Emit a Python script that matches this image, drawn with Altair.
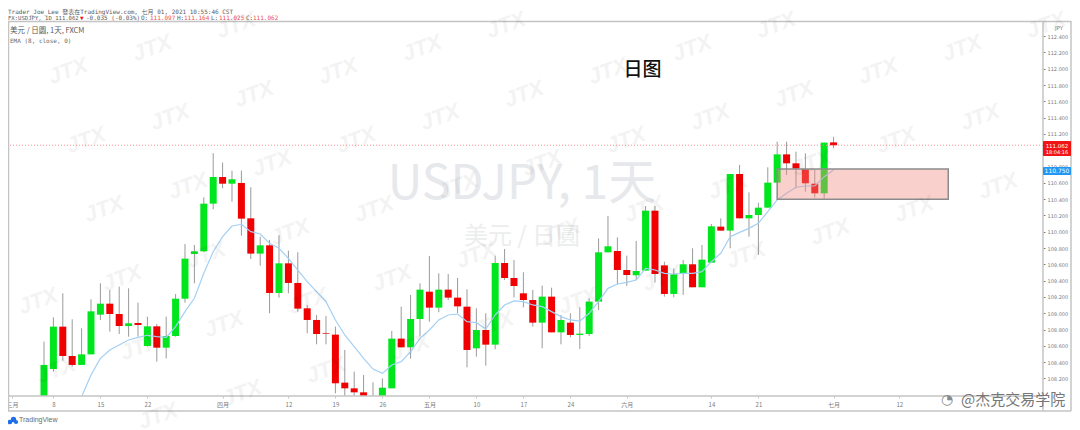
import json

import altair as alt
import pandas as pd

# candles (USDJPY daily)
opens = [107.57, 108.316, 108.836, 108.476, 108.366, 108.496, 108.983, 109.118, 108.991, 108.844,
         108.881, 108.599, 108.84, 108.578, 108.721, 109.179, 109.728, 109.76, 110.345, 110.672,
         110.59, 110.599, 110.165, 109.732, 109.834, 109.249, 109.613, 109.372, 109.061, 108.918,
         108.754, 108.738, 108.149, 108.079, 108.03, 107.916, 107.9, 108.079, 108.689, 108.582,
         108.93, 109.265, 109.069, 109.29, 109.192, 109.081, 108.57, 108.795, 108.615, 109.617,
         109.433, 109.245, 109.163, 108.885, 109.204, 108.766, 108.885, 108.734, 108.746, 109.143,
         109.748, 109.764, 109.531, 109.466, 109.523, 110.259, 109.588, 109.237, 109.482, 109.601,
         109.319, 109.621, 110.063, 110.014, 110.709, 110.165, 110.206, 110.296, 110.603, 110.95,
         110.84, 110.766, 110.59, 110.472, 111.097]
highs = [108.652, 108.95, 109.245, 108.926, 108.816, 109.171, 109.368, 109.286, 109.327, 109.306,
         109.13, 108.959, 108.869, 108.959, 109.237, 109.85, 109.838, 110.423, 110.963, 110.848,
         110.75, 110.75, 110.546, 109.94, 109.899, 109.957, 109.768, 109.748, 109.102, 108.979,
         108.967, 108.836, 108.55, 108.284, 108.243, 108.153, 108.2, 108.783, 109.081, 109.225,
         109.368, 109.703, 109.49, 109.482, 109.433, 109.294, 109.061, 109.0, 109.707, 109.789,
         109.654, 109.503, 109.286, 109.339, 109.314, 108.979, 109.0, 109.073, 109.184, 109.92,
         110.194, 109.932, 109.707, 109.887, 110.316, 110.316, 109.633, 109.552, 109.654, 109.797,
         109.838, 110.096, 110.165, 110.709, 110.82, 110.484, 110.357, 110.791, 111.106, 111.106,
         110.983, 110.963, 110.766, 111.094, 111.164]
lows = [107.5, 108.284, 108.419, 108.345, 108.366, 108.496, 108.918, 108.775, 108.746, 108.713,
        108.713, 108.59, 108.406, 108.447, 108.713, 109.13, 109.368, 109.756, 110.276, 110.533,
        110.37, 109.952, 109.666, 109.584, 109.0, 109.192, 109.245, 109.02, 108.754, 108.619,
        108.619, 108.018, 107.957, 107.936, 107.88, 107.78, 107.85, 108.079, 108.582, 108.443,
        108.713, 108.897, 109.012, 109.163, 109.0, 108.337, 108.468, 108.357, 108.558, 109.408,
        109.192, 109.073, 108.836, 108.57, 108.766, 108.619, 108.705, 108.562, 108.721, 109.04,
        109.748, 109.355, 109.335, 109.408, 109.523, 109.376, 109.204, 109.196, 109.225, 109.319,
        109.319, 109.621, 110.014, 109.797, 110.165, 109.94, 109.715, 110.296, 110.603, 110.697,
        110.533, 110.492, 110.419, 110.41, 111.025]
closes = [108.366, 108.836, 108.476, 108.366, 108.496, 109.024, 109.118, 108.991, 108.844, 108.877,
          108.856, 108.84, 108.578, 108.721, 109.179, 109.67, 109.76, 110.345, 110.672, 110.59,
          110.644, 110.161, 109.732, 109.834, 109.249, 109.613, 109.372, 109.057, 108.918, 108.746,
          108.746, 108.141, 108.079, 108.03, 107.916, 107.813, 108.087, 108.689, 108.582, 108.93,
          109.29, 109.069, 109.29, 109.192, 109.085, 108.55, 108.795, 108.615, 109.617, 109.433,
          109.335, 109.163, 108.885, 109.204, 108.766, 108.918, 108.734, 108.75, 109.143, 109.748,
          109.822, 109.531, 109.47, 109.519, 110.259, 109.482, 109.237, 109.478, 109.601, 109.319,
          109.658, 110.067, 110.014, 110.709, 110.165, 110.206, 110.296, 110.603, 110.95, 110.84,
          110.775, 110.595, 110.472, 111.094, 111.062]

# EMA starts at candle 3, before that it is below the chart
ema = [107.793, 107.977, 108.243, 108.447, 108.55, 108.611, 108.672, 108.705, 108.73, 108.713,
       108.705, 108.836, 109.02, 109.184, 109.49, 109.756, 109.94, 110.071, 110.092, 110.002,
       109.973, 109.858, 109.797, 109.674, 109.531, 109.388, 109.265, 109.143, 108.918, 108.734,
       108.59, 108.447, 108.316, 108.263, 108.366, 108.406, 108.529, 108.693, 108.795, 108.918,
       108.979, 108.991, 108.897, 108.885, 108.807, 108.979, 109.102, 109.151, 109.143, 109.102,
       109.081, 109.02, 108.959, 108.918, 108.905, 109.0, 109.143, 109.306, 109.359, 109.38,
       109.408, 109.552, 109.531, 109.49, 109.482, 109.49, 109.49, 109.511, 109.633, 109.736,
       109.94, 109.993, 110.042, 110.104, 110.247, 110.39, 110.472, 110.546, 110.562, 110.562,
       110.676, 110.758]

x_ticks = [-3.4, 1, 6, 11, 19, 26, 31, 36, 41, 46, 51, 56, 62, 71, 76, 84, 91]
x_labels = ["三月", "8", "15", "22", "四月", "12", "19", "26", "五月", "10", "17", "24", "六月",
            "14", "21", "七月", "12"]
y_ticks = [108.2, 108.4, 108.6, 108.8, 109.0, 109.2, 109.4, 109.6, 109.8, 110.0, 110.2,
           110.4, 110.6, 110.8, 111.0, 111.2, 111.4, 111.6, 111.8, 112.0, 112.2, 112.4]

last_price = 111.062
zone = {"x": 78, "x2": 96.2, "y": 110.77, "y2": 110.40}

X_DOMAIN = [-3.83, 106.28]
Y_DOMAIN = [107.985, 112.574]
FRAME = "#c4c4c4"
GREY = "#7c7c7c"
MONO = "DejaVu Sans Mono, Noto Sans CJK SC"
CJK = "Noto Sans CJK SC"

df = pd.DataFrame({"i": range(len(opens)), "open": opens, "high": highs, "low": lows, "close": closes})
df["dir"] = ["up" if c >= o else "down" for o, c in zip(opens, closes)]
ema_df = pd.DataFrame({"i": range(3, 3 + len(ema)), "ema": ema})

# padding=0 or the bars push the x scale inwards
x_scale = alt.Scale(domain=X_DOMAIN, nice=False, zero=False, padding=0)
y_scale = alt.Scale(domain=Y_DOMAIN, nice=False, zero=False, padding=0)
# same axis objects on every layer so they merge into one
x_axis = alt.Axis(values=x_ticks, labelExpr=f"{json.dumps(x_labels, ensure_ascii=False)}[indexof({json.dumps(x_ticks)}, datum.value)]",
                  title=None, grid=False, domain=False, tickColor=FRAME, tickSize=2, labelColor=GREY,
                  labelFontSize=6, labelFont=CJK, labelPadding=3, labelFlush=False, labelOverlap=False)
y_axis = alt.Axis(values=y_ticks, format=".3f", orient="right", title=None, grid=False, domain=False,
                  tickColor=GREY, tickSize=2, labelColor=GREY, labelFontSize=5, labelFont="DejaVu Sans",
                  labelPadding=2, labelOverlap=False, labelFlush=False)


def txt(text, px, py, size, color=GREY, font=CJK, align="left", **kw):
    # fixed text, px and py are page pixels of the picture
    return alt.Chart(df.head(1)).mark_text(text=text, fontSize=size, color=color, font=font, align=align,
                                           baseline="middle", **kw).encode(x=alt.value(px - 8), y=alt.value(py - 22))


def hline(py, px1, px2):
    return alt.Chart(df.head(1)).mark_rule(color=FRAME, strokeWidth=1.5).encode(
        x=alt.value(px1 - 8), x2=alt.value(px2 - 8), y=alt.value(py - 22))


def vline(px, py1, py2):
    return alt.Chart(df.head(1)).mark_rule(color=FRAME, strokeWidth=1.5).encode(
        x=alt.value(px - 8), y=alt.value(py1 - 22), y2=alt.value(py2 - 22))


def box(px1, px2, py1, py2, color):
    return alt.Chart(df.head(1)).mark_rect(color=color, cornerRadius=1).encode(
        x=alt.value(px1 - 8), x2=alt.value(px2 - 8), y=alt.value(py1 - 22), y2=alt.value(py2 - 22))


def dot(px, py, size, color):
    return alt.Chart(df.head(1)).mark_circle(color=color, size=size, opacity=1).encode(
        x=alt.value(px - 8), y=alt.value(py - 22))


# big symbol text behind the candles
back = [
    txt("USDJPY, 1天", 522, 185, 48, "#e6e8ec", "Noto Sans CJK SC", "center"),
    txt("美元 / 日圓", 522, 237, 24, "#eceded", "Noto Sans CJK SC", "center"),
]

base = alt.Chart(df)
wicks = base.mark_rule(color="#9a9a9a", strokeWidth=1, clip=True).encode(
    x=alt.X("i:Q", scale=x_scale, axis=x_axis),
    y=alt.Y("low:Q", scale=y_scale, axis=y_axis),
    y2="high:Q",
)
bodies = base.mark_bar(size=7, clip=True).encode(
    x=alt.X("i:Q", scale=x_scale, axis=x_axis),
    y=alt.Y("open:Q", scale=y_scale, axis=y_axis),
    y2="close:Q",
    color=alt.Color("dir:N", scale=alt.Scale(domain=["up", "down"], range=["#00e61e", "#f00000"]), legend=None),
)
ema_line = alt.Chart(ema_df).mark_line(color="#a3d0f5", strokeWidth=1.2, clip=True).encode(
    x=alt.X("i:Q", scale=x_scale, axis=x_axis),
    y=alt.Y("ema:Q", scale=y_scale, axis=y_axis),
)
price_line = alt.Chart(df.head(1)).mark_rule(color="#ff8f8f", strokeWidth=1, strokeDash=[1, 2]).encode(
    y=alt.Y(datum=last_price, scale=y_scale, axis=y_axis),
)
zone_rect = alt.Chart(pd.DataFrame([zone])).mark_rect(
    fill="#f08a80", fillOpacity=0.4, stroke="#8c8c8c", strokeWidth=1.5
).encode(
    x=alt.X("x:Q", scale=x_scale, axis=x_axis),
    x2="x2:Q",
    y=alt.Y("y:Q", scale=y_scale, axis=y_axis),
    y2="y2:Q",
)

# JTX watermark grid, converted from page pixels to the chart's own units
marks = []
for m in range(-2, 14):
    for n in range(-3, 4):
        px = 20 + 84 * m + 18 * n
        py = 232 - 23 * m + 69 * n
        if 24 <= px <= 1056 and 16 <= py <= 420:
            marks.append({"i": (px - 44) / 9.4, "p": 111.2 - (py - 134) / 81.5})
water = alt.Chart(pd.DataFrame(marks)).mark_text(
    text="JTX", font="Liberation Sans Narrow, Liberation Sans", fontSize=22, fontWeight="bold", fontStyle="italic",
    color="#000000", opacity=0.045, angle=340,
).encode(
    x=alt.X("i:Q", scale=x_scale, axis=x_axis),
    y=alt.Y("p:Q", scale=y_scale, axis=y_axis),
)

frame = [
    hline(21.5, 8, 1071), hline(396, 8, 1043), hline(411, 8, 1071),
    vline(8.5, 21, 411), vline(1043, 21, 411), vline(1071, 21, 411),
]

labels = [
    box(1043, 1071, 141, 156, "#f01414"),
    txt("111.062", 1057, 145.5, 5.5, "#ffffff", "DejaVu Sans", "center"),
    txt("18:04:16", 1057, 151.5, 5, "#ffffff", "DejaVu Sans", "center"),
    box(1043, 1071, 167, 175, "#2196f3"),
    txt("110.750", 1057, 171, 6, "#ffffff", "DejaVu Sans", "center"),
    txt("JPY", 1059, 28, 5.5, GREY, "DejaVu Sans", "center"),
]

header = [
    txt("Trader_Joe_Lee 發表在TradingView.com, 七月 01, 2021 10:55:46 CST", 8, 11.5, 6, "#5a5a5a", MONO),
    txt("FX:USDJPY, 1D 111.062", 8, 17.5, 5.6, "#5a5a5a", MONO),
    txt("▼", 80, 17.5, 6, "#f01414", MONO),
    txt("-0.035 (-0.03%)", 86, 17.5, 6, "#5a5a5a", MONO),
    txt("O:", 141, 17.5, 6, "#5a5a5a", MONO), txt("111.097", 150, 17.5, 6, "#f05050", MONO),
    txt("H:", 177, 17.5, 6, "#5a5a5a", MONO), txt("111.164", 184, 17.5, 6, "#f05050", MONO),
    txt("L:", 211, 17.5, 6, "#5a5a5a", MONO), txt("111.025", 219, 17.5, 6, "#f05050", MONO),
    txt("C:", 246, 17.5, 6, "#5a5a5a", MONO), txt("111.062", 253, 17.5, 6, "#f05050", MONO),
    txt("美元 / 日圆, 1天, FXCM", 10, 31, 7.5, "#5a5a5a"),
    txt("EMA (8, close, 0)", 10, 41, 6, "#6a6a6a", MONO),
    txt("日图", 642.5, 70, 19, "#111111", CJK, "center", fontWeight=500),
    dot(10, 422, 22, "#1e6fe8"), dot(13.5, 419.5, 28, "#1e6fe8"), dot(16, 422, 18, "#1e6fe8"),
    txt("TradingView", 19, 420, 7, "#6a6a6a", "Liberation Sans"),
    txt("◔", 947, 400, 14, "#8a8a8a", "DejaVu Sans", "center"),
    txt("@杰克交易学院", 961, 400, 15, "#777777", CJK),
]

chart = alt.layer(
    *back, wicks, bodies, ema_line, price_line, zone_rect, *frame, *labels, *header, water
).properties(
    width=1035,
    height=374,
    padding={"left": 0, "top": 14, "right": 29, "bottom": 34},
    autosize=alt.AutoSizeParams(type="none"),
    background="#ffffff",
).configure_view(stroke=None)

chart.save("out.html", embed_options={"renderer": "svg", "actions": False})
